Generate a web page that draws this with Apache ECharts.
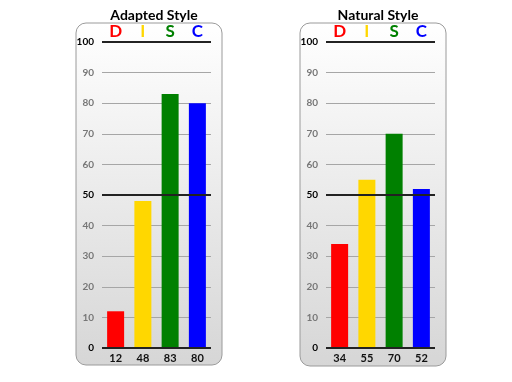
<!DOCTYPE html>
<html><head><meta charset="utf-8">
<script src="https://cdn.jsdelivr.net/npm/echarts@6/dist/echarts.min.js"></script>
<style>html,body{margin:0;padding:0;background:#fff}#c{width:512px;height:382px}</style>
</head><body><div id="c"></div>
<script>
const titles = ['Adapted Style', 'Natural Style'];
const categories = ['D', 'I', 'S', 'C'];
const adaptedValues = [12, 48, 83, 80];
const naturalValues = [34, 55, 70, 52];
const barColors = ['#ff0000', '#ffd700', '#008000', '#0000ff'];
const yTicks = [0, 10, 20, 30, 40, 50, 60, 70, 80, 90, 100];
const strongTicks = [0, 50, 100];

const FONT = 'Lato, "Open Sans", sans-serif';
const chart = echarts.init(document.getElementById('c'));
const panels = [
  {grid: {left: 102, top: 42, width: 109, height: 306}, rect: {x: 76, y: 23, width: 146, height: 342}, titleX: 149, values: adaptedValues},
  {grid: {left: 326, top: 42, width: 109, height: 306}, rect: {x: 300, y: 23, width: 146, height: 343}, titleX: 373, values: naturalValues}
];

const option = {
  animation: false,
  title: panels.map((p, i) => ({
    text: titles[i], left: p.titleX, top: 3, textAlign: 'center',
    textStyle: {fontFamily: FONT, fontWeight: 'bold', fontSize: 14, color: '#000'}
  })),
  graphic: panels.map(p => ({
    type: 'rect', z: -10, shape: {x: p.rect.x, y: p.rect.y, width: p.rect.width, height: p.rect.height, r: 10},
    style: {
      fill: new echarts.graphic.LinearGradient(0, 0, 0, 1, [{offset: 0, color: '#ffffff'}, {offset: 1, color: '#d6d6d6'}]),
      stroke: '#9a9a9a', lineWidth: 1
    }
  })),
  grid: panels.map(p => p.grid),
  xAxis: [].concat(...panels.map((p, i) => [
    {
      type: 'category', gridIndex: i, position: 'bottom', data: p.values.map(String),
      axisLine: {show: false}, axisTick: {show: false},
      axisLabel: {interval: 0, margin: 5, fontFamily: FONT, fontWeight: 'bold', fontSize: 11, color: '#111'}
    },
    {
      type: 'category', gridIndex: i, position: 'top', data: categories,
      axisLine: {show: false}, axisTick: {show: false},
      axisLabel: {
        interval: 0, margin: 2, fontFamily: FONT, fontWeight: 'bold', fontSize: 17,
        formatter: (v, idx) => '{c' + idx + '|' + v + '}',
        rich: Object.fromEntries(barColors.map((c, k) => ['c' + k, {color: c, fontFamily: FONT, fontWeight: 'bold', fontSize: 17}]))
      }
    }
  ])),
  yAxis: panels.map((p, i) => ({
    type: 'value', gridIndex: i, min: 0, max: 100, interval: 10,
    axisLine: {show: false}, axisTick: {show: false},
    splitLine: {lineStyle: {color: '#a6a6a6', width: 1}},
    axisLabel: {
      margin: 8,
      formatter: v => (strongTicks.includes(v) ? '{b|' + v + '}' : '{g|' + v + '}'),
      rich: {
        b: {color: '#000', fontFamily: FONT, fontWeight: 'bold', fontSize: 10},
        g: {color: '#777', fontFamily: FONT, fontWeight: 'bold', fontSize: 10}
      }
    }
  })),
  series: panels.map((p, i) => ({
    type: 'bar', xAxisIndex: i * 2, yAxisIndex: i, barWidth: 17,
    data: p.values.map((v, k) => ({value: v, itemStyle: {color: barColors[k]}})),
    markLine: {
      silent: true, symbol: 'none', label: {show: false},
      lineStyle: {color: '#222', width: 2, type: 'solid'},
      data: strongTicks.map(t => ({yAxis: t}))
    }
  }))
};
chart.setOption(option);
</script></body></html>
